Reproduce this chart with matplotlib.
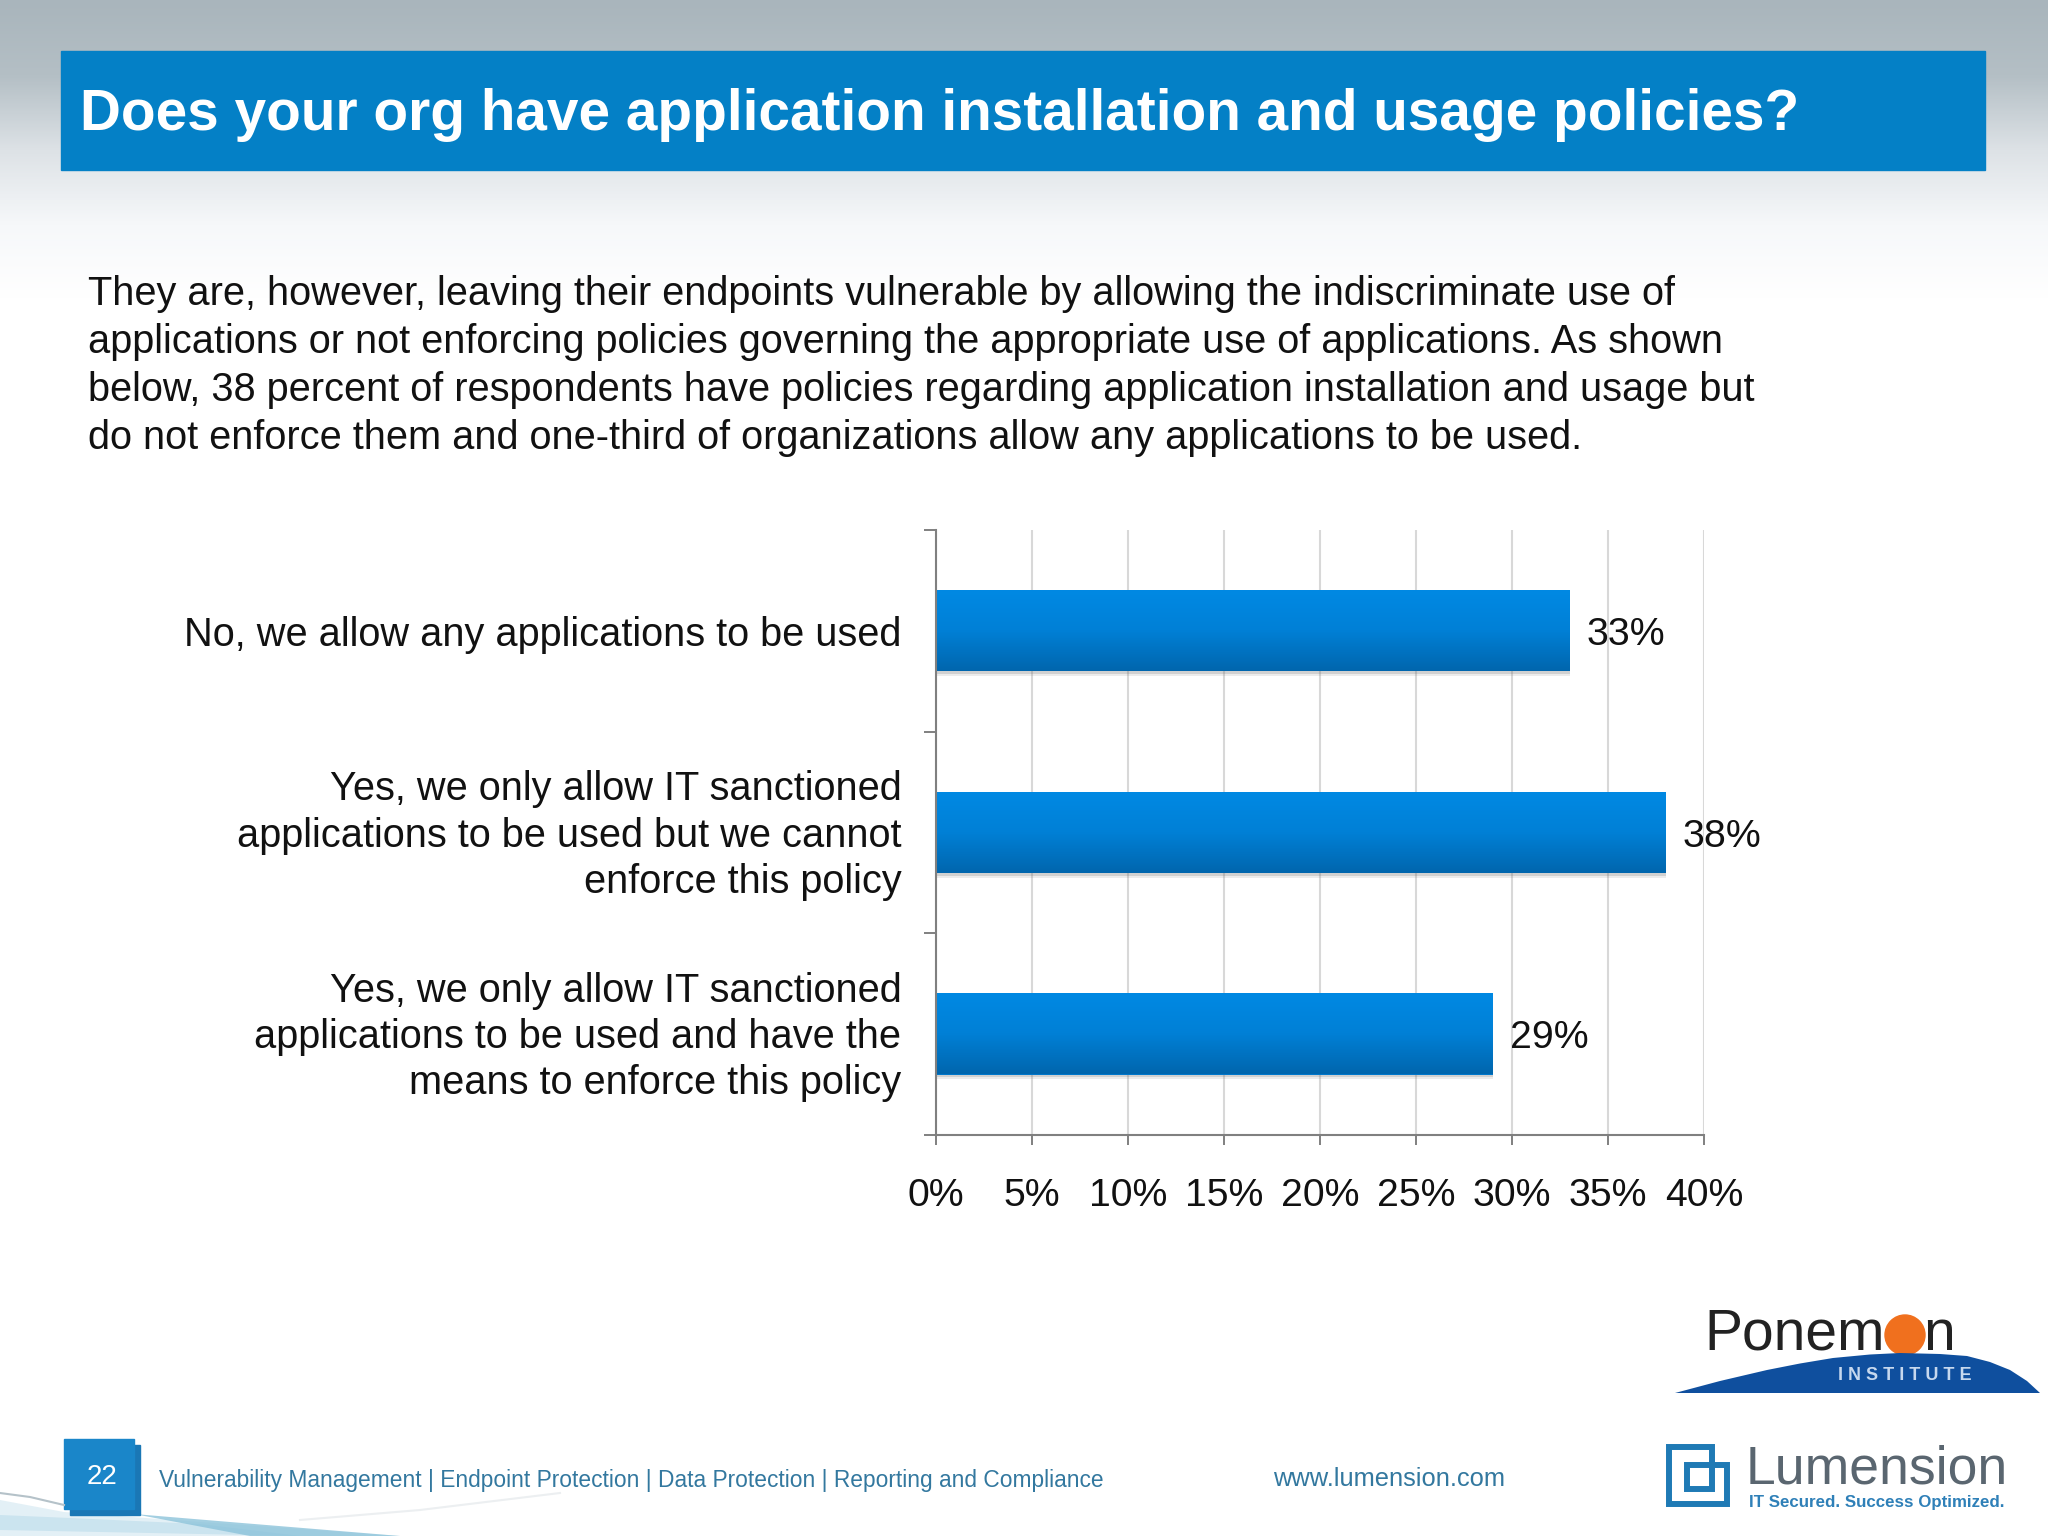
import numpy as np
import matplotlib as mpl
mpl.use('Agg')
import matplotlib.pyplot as plt
import matplotlib.patheffects as pe
from matplotlib.colors import LinearSegmentedColormap
from matplotlib.patches import Rectangle, Circle, Polygon
from matplotlib.transforms import ScaledTranslation

plt.rcParams['font.family'] = ['Liberation Sans', 'DejaVu Sans']

title = 'Does your org have application installation and usage policies?'
body = ['They are, however, leaving their endpoints vulnerable by allowing the indiscriminate use of',
        'applications or not enforcing policies governing the appropriate use of applications. As shown',
        'below, 38 percent of respondents have policies regarding application installation and usage but',
        'do not enforce them and one-third of organizations allow any applications to be used.']
categories = ['Yes, we only allow IT sanctioned\napplications to be used and have the\nmeans to enforce this policy',
              'Yes, we only allow IT sanctioned\napplications to be used but we cannot\nenforce this policy',
              'No, we allow any applications to be used']
values = [29, 38, 33]
xticks = [0, 5, 10, 15, 20, 25, 30, 35, 40]
footer = 'Vulnerability Management | Endpoint Protection | Data Protection | Reporting and Compliance'

W, H = 2048, 1536
fig = plt.figure(figsize=(W / 100, H / 100), dpi=100)

# slide background, in pixel coords
bg = fig.add_axes([0, 0, 1, 1])
cm = LinearSegmentedColormap.from_list('sky', ['#a9b5bc', '#b4bfc5', '#dde2e6', '#f6f8fa', '#ffffff'])
bg.imshow(np.linspace(0, 1, 300).reshape(-1, 1), cmap=cm, extent=[0, W, 300, 0], aspect='auto')
bg.set_xlim(0, W)
bg.set_ylim(H, 0)
bg.axis('off')

bg.add_patch(Rectangle((61, 51), 1924, 119, color='#0480c6'))
bg.text(80, 115, title, color='white', fontsize=40.85, fontweight='bold', va='center', ha='left')
for i, line in enumerate(body):
    bg.text(88, 294 + i * 48, line, color='#111111', fontsize=28.62, va='center', ha='left')

# footer swoosh
bg.add_patch(Polygon([(0, 1500), (64, 1512), (200, 1522), (400, 1536), (0, 1536)], color='#e3f0f6', lw=0))
bg.add_patch(Polygon([(0, 1515), (70, 1518), (200, 1524), (300, 1536), (0, 1530)], color='#cbe4ef', lw=0))
bg.add_patch(Polygon([(134, 1514), (230, 1522), (400, 1536), (250, 1536)], color='#8cc3da', lw=0, alpha=.8))
bg.plot([0, 30, 64], [1493, 1497, 1505], color='#b5c2c9', lw=1.5)
bg.plot([300, 420, 560], [1520, 1510, 1493], color='#eceff1', lw=1.5)
bg.add_patch(Rectangle((70, 1445), 70, 70, color='#1a77b5'))
bg.add_patch(Rectangle((64, 1439), 70, 70, color='#1a86c9'))
bg.text(102, 1477, '22', color='white', fontsize=20, ha='center', va='center')
bg.text(159, 1480, footer, color='#33789f', fontsize=16.4, va='center', ha='left')
bg.text(1273, 1479, 'www.lumension.com', color='#33789f', fontsize=18.4, va='center', ha='left')

# Ponemon logo
bg.text(1704, 1350, 'Ponem', color='#222222', fontsize=41, va='baseline', ha='left')
bg.text(1923, 1350, 'n', color='#222222', fontsize=41, va='baseline', ha='left')
bg.add_patch(Circle((1905, 1335), 20, color='#f0701e', zorder=3))
dome_x = [1675, 1720, 1767, 1800, 1833, 1870, 1900, 1940, 1967, 1990, 2010, 2027, 2040]
dome_y = [1393, 1381, 1370, 1363.5, 1358, 1354.5, 1353, 1354, 1356, 1362, 1370, 1381, 1393]
bg.add_patch(Polygon(list(zip(dome_x, dome_y)), color='#0f4f9e', lw=0, zorder=4))
bg.text(1905, 1375, 'I N S T I T U T E', color='#c6d8ee', fontsize=13, fontweight='bold', ha='center', va='center', zorder=5)

# Lumension logo
bg.add_patch(Polygon([(1669, 1447), (1712, 1447), (1712, 1465), (1727, 1465), (1727, 1504), (1669, 1504)],
                     fill=False, ec='#1f7ab5', lw=4.3, joinstyle='miter'))
bg.add_patch(Rectangle((1687, 1465), 25, 24, fill=False, ec='#1f7ab5', lw=4.3))
bg.text(1746, 1483, 'Lumension', color='#5a6670', fontsize=38.5, va='baseline', ha='left')
bg.text(1749, 1507, 'IT Secured. Success Optimized.', color='#2f80b8', fontsize=12.2, va='baseline', ha='left', fontweight='bold')

# chart
L, R, T, B = 936, 1704, 530, 1135
ax = fig.add_axes([L / W, 1 - B / H, (R - L) / W, (B - T) / H])
ax.patch.set_alpha(0)
y = np.arange(len(categories))
bars = ax.barh(y, values, height=0.40, color='#0078cc', zorder=3,
               path_effects=[pe.SimplePatchShadow(offset=(0, -3.5), shadow_rgbFace='#666666', alpha=0.12),
                             pe.SimplePatchShadow(offset=(0, -2), shadow_rgbFace='#666666', alpha=0.2), pe.Normal()])
bar_cm = LinearSegmentedColormap.from_list('bar', ['#0089e3', '#0080d6', '#0066ae'])
for b, v in zip(bars, values):
    ax.imshow(np.linspace(0, 1, 100).reshape(-1, 1), cmap=bar_cm, aspect='auto', zorder=4,
              extent=[0, v, b.get_y(), b.get_y() + b.get_height()])
    ax.annotate(f'{v}%', (v, b.get_y() + b.get_height() / 2), xytext=(12.5, -3), textcoords='offset points',
                va='center', ha='left', fontsize=28.3, color='#111111', zorder=5)

ax.set_xlim(0, 40)
ax.set_ylim(-0.5, 2.5)
ax.set_xticks(xticks)
ax.set_xticklabels([f'{t}%' for t in xticks], fontsize=28.3, color='#111111')
ax.set_yticks(y)
ax.set_yticklabels(categories, fontsize=28.6, color='#111111', ha='right', linespacing=1.27)
ax.set_yticks([-0.5, 0.5, 1.5, 2.5], minor=True)
ax.tick_params(axis='y', which='major', length=0, pad=25)
ax.tick_params(axis='y', which='minor', length=8.5, width=1.4, color='#808080')
ax.tick_params(axis='x', length=7, width=1.4, color='#808080', pad=24.3)
ax.grid(axis='x', color='#d8d8d8', lw=1.5, zorder=1)
ax.set_axisbelow(True)
# wrapped labels sit a little high in the original
for lab in ax.get_yticklabels():
    if '\n' in lab.get_text():
        lab.set_transform(lab.get_transform() + ScaledTranslation(0, 5 / 100, fig.dpi_scale_trans))
for s in ['top', 'right']:
    ax.spines[s].set_visible(False)
for s in ['left', 'bottom']:
    ax.spines[s].set_color('#808080')
    ax.spines[s].set_linewidth(1.5)
    ax.spines[s].set_zorder(6)

fig.savefig('out.png', dpi=100)
